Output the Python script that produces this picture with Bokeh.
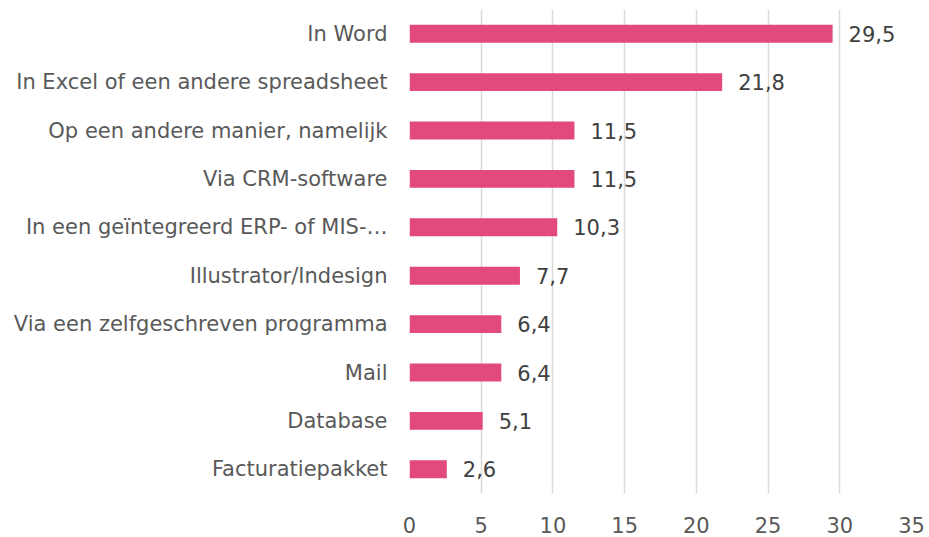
from bokeh.plotting import figure
from bokeh.models import ColumnDataSource, FactorRange, Range1d, FixedTicker
from bokeh.core.properties import value
from bokeh.embed import file_html
from bokeh.resources import INLINE

categories = [
    "In Word",
    "In Excel of een andere spreadsheet",
    "Op een andere manier, namelijk",
    "Via CRM-software",
    "In een geïntegreerd ERP- of MIS-…",
    "Illustrator/Indesign",
    "Via een zelfgeschreven programma",
    "Mail",
    "Database",
    "Facturatiepakket",
]
values = [29.5, 21.8, 11.5, 11.5, 10.3, 7.7, 6.4, 6.4, 5.1, 2.6]
labels = [f"{v:.1f}".replace(".", ",") for v in values]
x_ticks = [0, 5, 10, 15, 20, 25, 30, 35]

FONT = "DejaVu Sans"
SIZE = "21px"
source = ColumnDataSource(dict(cat=categories, val=values, lab=labels))

p = figure(
    width=929, height=537,
    y_range=FactorRange(*list(reversed(categories))),
    x_range=Range1d(0, 35),
    output_backend="svg", toolbar_location=None,
    min_border_left=409, min_border_right=18, min_border_top=9, min_border_bottom=44,
)
p.hbar(y="cat", right="val", left=0, height=0.37, source=source,
       fill_color="#E2497E", line_color=None)
p.text(x="val", y="cat", text="lab", source=source, x_offset=16,
       text_baseline="middle", text_align="left",
       text_font=value(FONT), text_font_size=SIZE, text_color="#404040")

p.outline_line_color = None
p.ygrid.grid_line_color = None
p.xgrid.grid_line_color = "#D9D9D9"
p.xgrid.grid_line_width = 1.5
p.xaxis.ticker = FixedTicker(ticks=x_ticks)
for ax in (p.xaxis[0], p.yaxis[0]):
    ax.axis_line_color = None
    ax.major_tick_line_color = None
    ax.minor_tick_line_color = None
    ax.major_label_text_font = FONT
    ax.major_label_text_font_size = SIZE
    ax.major_label_text_color = "#595959"
p.yaxis.major_label_standoff = 16
p.xaxis.major_label_standoff = 17

open("out.html", "w").write(file_html(p, INLINE))
